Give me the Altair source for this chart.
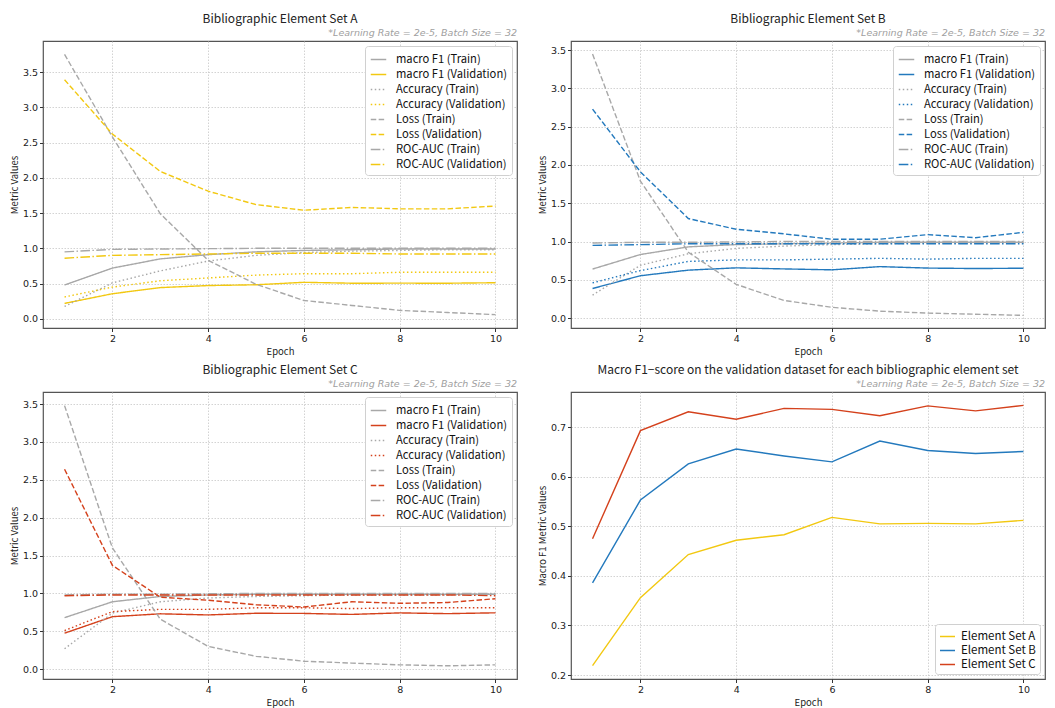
import altair as alt
import pandas as pd

epochs = [1, 2, 3, 4, 5, 6, 7, 8, 9, 10]

# ---- Set A ----
f1_train_A = [0.48, 0.72, 0.85, 0.91, 0.95, 0.97, 0.98, 0.99, 0.99, 0.99]
f1_val_A = [0.219, 0.356, 0.443, 0.472, 0.483, 0.518, 0.505, 0.506, 0.505, 0.512]
acc_train_A = [0.175, 0.51, 0.68, 0.82, 0.90, 0.94, 0.96, 0.97, 0.98, 0.98]
acc_val_A = [0.31, 0.45, 0.54, 0.58, 0.62, 0.64, 0.64, 0.66, 0.66, 0.66]
loss_train_A = [3.75, 2.58, 1.49, 0.83, 0.49, 0.26, 0.19, 0.12, 0.09, 0.06]
loss_val_A = [3.39, 2.62, 2.09, 1.81, 1.62, 1.54, 1.58, 1.56, 1.56, 1.60]
auc_train_A = [0.95, 0.985, 0.99, 0.995, 1.0, 1.0, 1.0, 1.0, 1.0, 1.0]
auc_val_A = [0.86, 0.90, 0.91, 0.92, 0.93, 0.93, 0.93, 0.92, 0.92, 0.92]

# ---- Set B ----
f1_train_B = [0.64, 0.83, 0.93, 0.96, 0.97, 0.98, 0.99, 0.99, 0.99, 0.99]
f1_val_B = [0.386, 0.553, 0.626, 0.656, 0.642, 0.630, 0.672, 0.653, 0.647, 0.651]
acc_train_B = [0.30, 0.69, 0.84, 0.91, 0.94, 0.96, 0.97, 0.98, 0.98, 0.99]
acc_val_B = [0.46, 0.62, 0.74, 0.76, 0.76, 0.77, 0.78, 0.77, 0.78, 0.78]
loss_train_B = [3.45, 1.79, 0.86, 0.44, 0.23, 0.14, 0.09, 0.065, 0.05, 0.035]
loss_val_B = [2.73, 1.91, 1.30, 1.16, 1.10, 1.03, 1.03, 1.09, 1.05, 1.12]
auc_train_B = [0.98, 0.99, 0.99, 0.995, 1.0, 1.0, 1.0, 1.0, 1.0, 1.0]
auc_val_B = [0.95, 0.96, 0.97, 0.97, 0.97, 0.97, 0.97, 0.97, 0.97, 0.97]

# ---- Set C ----
f1_train_C = [0.68, 0.89, 0.96, 0.98, 0.99, 0.99, 0.99, 0.99, 0.99, 0.99]
f1_val_C = [0.475, 0.693, 0.731, 0.716, 0.738, 0.736, 0.723, 0.743, 0.733, 0.744]
acc_train_C = [0.27, 0.74, 0.89, 0.94, 0.96, 0.97, 0.98, 0.98, 0.98, 0.99]
acc_val_C = [0.51, 0.76, 0.79, 0.79, 0.81, 0.81, 0.80, 0.81, 0.81, 0.81]
loss_train_C = [3.48, 1.60, 0.66, 0.30, 0.17, 0.105, 0.08, 0.057, 0.044, 0.057]
loss_val_C = [2.64, 1.37, 0.95, 0.91, 0.85, 0.82, 0.89, 0.87, 0.88, 0.93]
auc_train_C = [0.98, 0.99, 0.99, 0.995, 1.0, 1.0, 1.0, 1.0, 1.0, 1.0]
auc_val_C = [0.97, 0.98, 0.98, 0.98, 0.98, 0.98, 0.98, 0.98, 0.98, 0.97]

series_names = [
    "macro F1 (Train)", "macro F1 (Validation)",
    "Accuracy (Train)", "Accuracy (Validation)",
    "Loss (Train)", "Loss (Validation)",
    "ROC-AUC (Train)", "ROC-AUC (Validation)",
]
set_names = ["Element Set A", "Element Set B", "Element Set C"]
set_colors = ["#F2C811", "#2379BD", "#D4411C"]
train_color = "#A8A8A8"

SOLID = [1, 0]
DOT = [1.5, 2.5]
DASH = [5.5, 2.4]
DASHDOT = [9.6, 2.4, 1.5, 2.4]
dash_list = [SOLID, SOLID, DOT, DOT, DASH, DASH, DASHDOT, DASHDOT]

NOTE = "*Learning Rate = 2e-5, Batch Size = 32"
FONT = "Noto Sans CJK KR"
TICKFONT = "DejaVu Sans"
W, H = 474, 287


def long_df(arrays):
    rows = []
    for name, vals in zip(series_names, arrays):
        for e, v in zip(epochs, vals):
            rows.append({"epoch": e, "value": v, "series": name})
    return pd.DataFrame(rows)


def axes(ytitle, ydomain, yvals):
    x = alt.X("epoch:Q", title="Epoch",
              scale=alt.Scale(domain=[0.55, 10.45], nice=False, zero=False),
              axis=alt.Axis(values=[2, 4, 6, 8, 10], format="d"))
    y = alt.Y("value:Q", title=ytitle,
              scale=alt.Scale(domain=ydomain, nice=False, zero=False),
              axis=alt.Axis(values=yvals, format=".1f"))
    return x, y


def note_layer():
    return alt.Chart(pd.DataFrame({"t": [NOTE]})).mark_text(
        align="right", baseline="bottom", fontStyle="italic",
        fontSize=9.5, color="#A0A0A0", font=TICKFONT
    ).encode(x=alt.value(W), y=alt.value(-3), text="t:N")


def metric_panel(title, arrays, color, ydomain):
    df = long_df(arrays)
    colors = [train_color, color] * 4
    x, y = axes("Metric Values", ydomain, [0, 0.5, 1.0, 1.5, 2.0, 2.5, 3.0, 3.5])
    leg = alt.Legend(title=None, orient="top-right", symbolType="stroke",
                     fillColor="white", strokeColor="#D0D0D0", padding=5,
                     cornerRadius=3, labelFontSize=11.2, labelFont=FONT,
                     labelColor="#111", symbolSize=240, symbolStrokeWidth=1.5,
                     rowPadding=1, offset=5, labelLimit=200, labelOffset=9)
    lines = alt.Chart(df).mark_line(strokeWidth=1.4, clip=True).encode(
        x=x, y=y,
        color=alt.Color("series:N", scale=alt.Scale(domain=series_names, range=colors), legend=leg),
        strokeDash=alt.StrokeDash("series:N", scale=alt.Scale(domain=series_names, range=dash_list), legend=leg),
    )
    return alt.layer(lines, note_layer()).properties(
        width=W, height=H, title=alt.TitleParams(title, offset=2)
    )


panel_A = metric_panel("Bibliographic Element Set A",
                       [f1_train_A, f1_val_A, acc_train_A, acc_val_A, loss_train_A, loss_val_A, auc_train_A, auc_val_A],
                       set_colors[0], [-0.13, 3.94])
panel_B = metric_panel("Bibliographic Element Set B",
                       [f1_train_B, f1_val_B, acc_train_B, acc_val_B, loss_train_B, loss_val_B, auc_train_B, auc_val_B],
                       set_colors[1], [-0.13, 3.62])
panel_C = metric_panel("Bibliographic Element Set C",
                       [f1_train_C, f1_val_C, acc_train_C, acc_val_C, loss_train_C, loss_val_C, auc_train_C, auc_val_C],
                       set_colors[2], [-0.13, 3.66])

# ---- Panel D ----
rows = []
for name, vals in zip(set_names, [f1_val_A, f1_val_B, f1_val_C]):
    for e, v in zip(epochs, vals):
        rows.append({"epoch": e, "value": v, "series": name})
df_D = pd.DataFrame(rows)
xD, yD = axes("Macro F1 Metric Values", [0.192, 0.771], [0.2, 0.3, 0.4, 0.5, 0.6, 0.7])
legD = alt.Legend(title=None, orient="bottom-right", symbolType="stroke",
                  fillColor="white", strokeColor="#D0D0D0", padding=4,
                  cornerRadius=3, labelFontSize=11.5, labelFont=FONT,
                  labelColor="#111", symbolSize=225, symbolStrokeWidth=1.5,
                  rowPadding=0, offset=5, labelOffset=5)
lines_D = alt.Chart(df_D).mark_line(strokeWidth=1.4, clip=True).encode(
    x=xD, y=yD,
    color=alt.Color("series:N", scale=alt.Scale(domain=set_names, range=set_colors), legend=legD),
)
panel_D = alt.layer(lines_D, note_layer()).properties(
    width=W, height=H,
    title=alt.TitleParams("Macro F1\u2212score on the validation dataset for each bibliographic element set", offset=2),
)

row1 = alt.hconcat(panel_A, panel_B, spacing=18).resolve_scale(color="independent", strokeDash="independent")
row2 = alt.hconcat(panel_C, panel_D, spacing=18).resolve_scale(color="independent", strokeDash="independent")

chart = alt.vconcat(row1, row2, spacing=6).resolve_scale(
    color="independent", strokeDash="independent"
).properties(padding={"left": 0, "top": 4, "right": 0, "bottom": 0}).configure(
    font=FONT
).configure_view(
    stroke="#555555", strokeWidth=1.2
).configure_axis(
    domain=False,
    grid=True, gridColor="#C8C8C8", gridDash=[1.5, 1.5], gridWidth=0.8,
    tickColor="#333", tickSize=3.5, labelFont=TICKFONT, labelFontSize=9.5,
    labelColor="#222", titleFont=FONT, titleFontSize=9.5, titleFontWeight="normal",
    titleColor="#222", labelPadding=2, titlePadding=3,
).configure_title(
    font=FONT, fontSize=12, fontWeight="normal", color="#222", anchor="middle"
)

chart.save("out.html", embed_options={"renderer": "svg", "actions": False})
